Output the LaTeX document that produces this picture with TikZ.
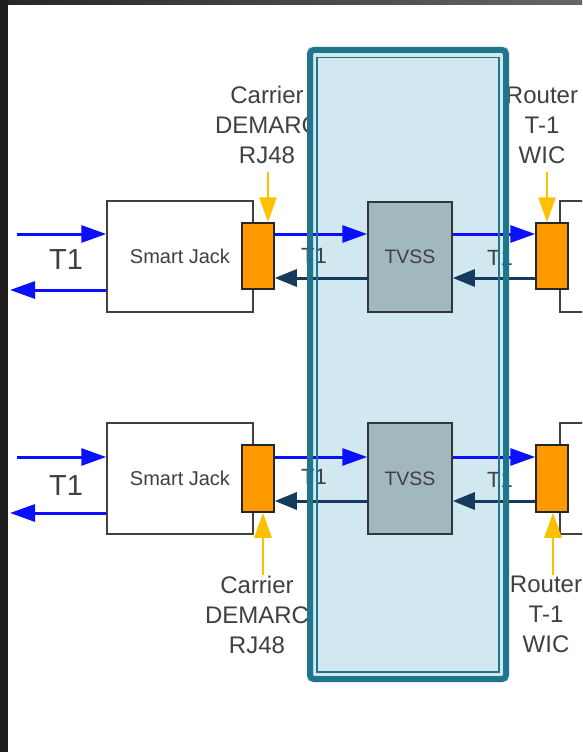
\documentclass[tikz,border=0pt]{standalone}
\usepackage{fontspec}
\setmainfont{Liberation Sans}
\usetikzlibrary{arrows.meta}
\definecolor{tblue}{HTML}{0A10FF}
\definecolor{dkblue}{HTML}{163A5C}
\definecolor{yel}{HTML}{FFC000}
\definecolor{org}{HTML}{FF9900}
\definecolor{frameteal}{HTML}{1F7589}
\definecolor{paleblue}{HTML}{D2E8F0}
\definecolor{tvgray}{HTML}{A2B8BF}
\definecolor{labgray}{HTML}{404040}
\begin{document}
\begin{tikzpicture}[x=1pt,y=-1pt,
  jackbox/.style={draw=labgray,line width=1.5pt,fill=white,inner sep=0pt,minimum width=146pt,minimum height=111pt,font=\fontsize{20}{24}\selectfont,text=labgray},
  portbox/.style={draw=black!85,line width=1.5pt,fill=org,inner sep=0pt,minimum width=32pt,minimum height=66pt},
  tvbox/.style={draw=black!70!tvgray,line width=1.5pt,fill=tvgray,inner sep=0pt,minimum width=84pt,minimum height=110pt,font=\fontsize{19.5}{23}\selectfont,text=labgray},
  routerbox/.style={draw=labgray,line width=1.5pt,fill=white,inner sep=0pt,minimum width=40pt,minimum height=111pt},
  biglabel/.style={align=center,inner sep=0pt,text=labgray,font=\fontsize{24}{30}\selectfont},
  tlabel/.style={inner sep=0pt,text=labgray,font=\fontsize{29}{32}\selectfont},
  smalltl/.style={inner sep=0pt,text=labgray,font=\fontsize{22}{24}\selectfont},
  bluearrow/.style={draw=tblue,line width=3pt,-{Triangle[length=25pt,width=17pt]}},
  darkarrow/.style={draw=dkblue,line width=3pt,-{Triangle[length=22pt,width=17pt]}},
  yelarrow/.style={draw=yel,line width=2.6pt,-{Triangle[length=25pt,width=17pt]}}
]
\useasboundingbox (0,0) rectangle (582,752);
\fill[white] (0,0) rectangle (582,752);
\clip (0,0) rectangle (582,752);
\shade[left color=black!85,right color=black!60] (0,0) rectangle (582,5);
\fill[black!88] (0,0) rectangle (8,752);

% labels (behind the frame)
\node[biglabel] (lab1) at (267,124.5) {Carrier\\DEMARC\\RJ48};
\node[biglabel] (lab2) at (542,125) {Router\\T-1\\WIC};
\node[biglabel] (lab3) at (257,614.5) {Carrier\\DEMARC\\RJ48};
\node[biglabel] (lab4) at (546,614.5) {Router\\T-1\\WIC};

% frame fill
\fill[paleblue,rounded corners=4pt] (307,47) rectangle (509,682);

% top row
\node[jackbox] (sj1) at (180,256.5) {Smart Jack};
\node[portbox] (o1) at (258,256) {};
\node[tvbox] (tv1) at (410,257) {TVSS};
\node[routerbox] (rt1) at (580,256.5) {};
\node[portbox] (o2) at (552,256) {};

\coordinate (a1) at (17,234);
\coordinate (b1) at (10,290);
\coordinate (d1) at (0,278);
\coordinate (y1) at (268,172);
\coordinate (y2) at (547,172);
\draw[bluearrow] (a1) -- (sj1.west |- a1);
\draw[bluearrow] (sj1.west |- b1) -- (b1);
\draw[bluearrow] (o1.east |- a1) -- (tv1.west |- a1);
\draw[bluearrow] (tv1.east |- a1) -- (o2.west |- a1);
\draw[darkarrow] (o2.west |- d1) -- (tv1.east |- d1);
\draw[darkarrow] (tv1.west |- d1) -- (o1.east |- d1);
\draw[yelarrow] (y1) -- (y1 |- o1.north);
\draw[yelarrow] (y2) -- (y2 |- o2.north);
\node[tlabel] (t1) at (66,259.5) {T1};
\node[smalltl] (t2) at (314,256) {T1};
\node[smalltl] (t3) at (500,258) {T1};

% bottom row
\node[jackbox] (sj2) at (180,478.5) {Smart Jack};
\node[portbox,minimum height=67pt] (o3) at (258,478.5) {};
\node[tvbox,minimum height=111pt] (tv2) at (410,478.5) {TVSS};
\node[routerbox] (rt2) at (580,478.5) {};
\node[portbox,minimum height=67pt] (o4) at (552,478.5) {};

\coordinate (a2) at (17,457);
\coordinate (b2) at (10,513);
\coordinate (d2) at (0,501);
\coordinate (y3) at (263,575);
\coordinate (y4) at (553,575);
\draw[bluearrow] (a2) -- (sj2.west |- a2);
\draw[bluearrow] (sj2.west |- b2) -- (b2);
\draw[bluearrow] (o3.east |- a2) -- (tv2.west |- a2);
\draw[bluearrow] (tv2.east |- a2) -- (o4.west |- a2);
\draw[darkarrow] (o4.west |- d2) -- (tv2.east |- d2);
\draw[darkarrow] (tv2.west |- d2) -- (o3.east |- d2);
\draw[yelarrow] (y3) -- (y3 |- o3.south);
\draw[yelarrow] (y4) -- (y4 |- o4.south);
\node[tlabel] (t4) at (66,486) {T1};
\node[smalltl] (t5) at (314,477) {T1};
\node[smalltl] (t6) at (500,480) {T1};

% frame border on top
\draw[frameteal,line width=6pt,rounded corners=4pt] (310,50) rectangle (506,679);
\draw[frameteal,line width=1.5pt] (317,57.5) rectangle (499,672);
\end{tikzpicture}
\end{document}
